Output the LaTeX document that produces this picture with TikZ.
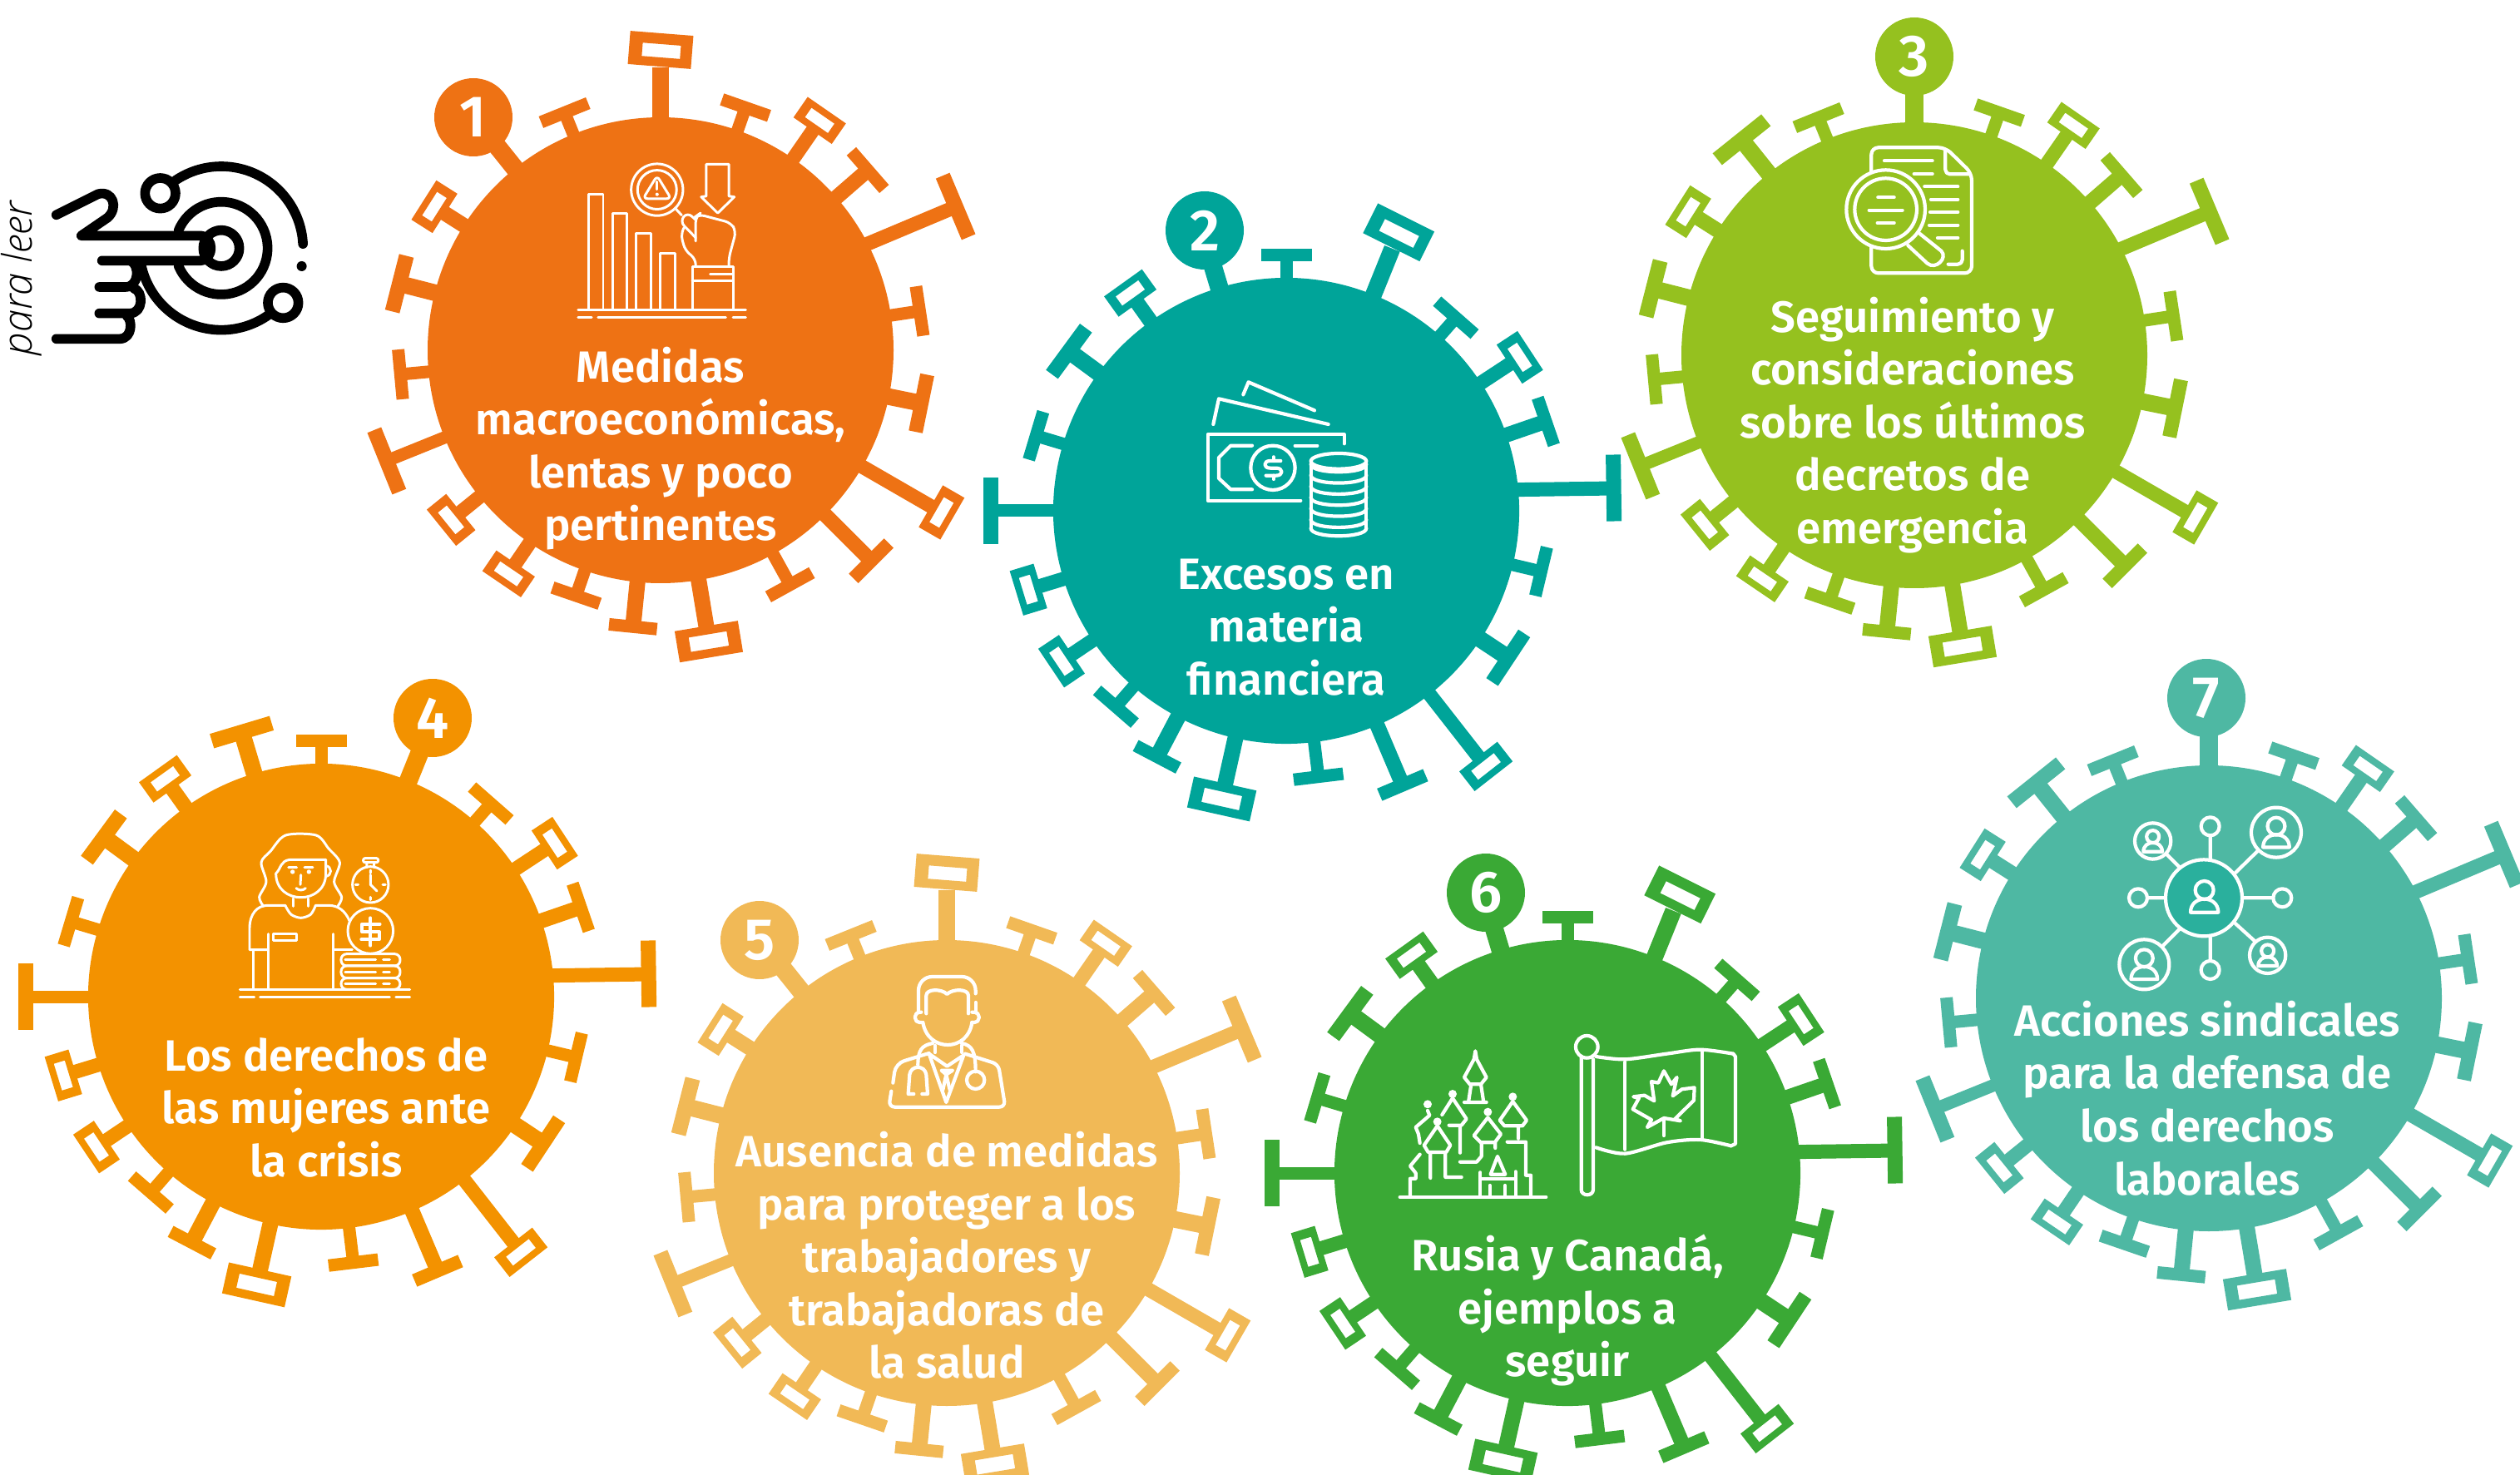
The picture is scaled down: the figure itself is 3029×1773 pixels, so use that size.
\documentclass[tikz,border=0pt]{standalone}
\usepackage{fontspec}
\setmainfont{Fira Sans}
\newfontfamily\tf{Fira Sans SemiBold}
\newfontfamily\pl{Open Sans Light}[ItalicFont={Open Sans Light Italic}]
\definecolor{c1}{HTML}{EE7214}
\definecolor{c2}{HTML}{00A499}
\definecolor{c3}{HTML}{95C11F}
\definecolor{c4}{HTML}{F39200}
\definecolor{c5}{HTML}{F1B956}
\definecolor{c6}{HTML}{3AA935}
\definecolor{c7}{HTML}{4EB8A3}
\definecolor{c7d}{HTML}{2AB09D}
\newcommand{\vT}[5]{%
  \begin{scope}[rotate=#1]
    \fill[vc] (260,-#5/2) rectangle (#2,#5/2);
    \fill[vc] (#2-#4/2,-#3/2) rectangle (#2+#4/2,#3/2);
  \end{scope}}
% ang, centre distance, width, thickness, stem
\newcommand{\vB}[5]{%
  \begin{scope}[rotate=#1]
    \fill[vc] (260,-#5/2) rectangle (#2-#4/2+1,#5/2);
    \fill[vc,even odd rule] (#2-#4/2,-#3/2) rectangle (#2+#4/2,#3/2)
       (#2-#4/2+0.27*#4,-#3/2+0.2*#3) rectangle (#2+#4/2-0.27*#4,#3/2-0.2*#3);
  \end{scope}}
% #1 cx #2 cy #3 colour #4 rotation #5 badge dx #6 badge dy #7 number #8 spikes at 90 / 128.7
\newcommand{\virus}[8]{%
  \colorlet{vc}{#3}%
  \begin{scope}[shift={(#1,#2)},rotate=#4]
    \vT{112}{308}{61}{15}{15}
    \vB{147.6}{322}{56}{30}{18}
    \vT{165.7}{324}{69}{18}{20}
    \vT{185.3}{314}{60}{15}{15}
    \vT{202}{355}{80}{18}{15}
    \vB{219}{324}{56}{30}{17}
    \vB{235.8}{325}{56}{30}{17}
    \vT{251}{312}{60}{15}{15}
    \vT{264.3}{334}{58}{15}{19}
    \vB{279.4}{355}{77}{38}{19}
    \vT{298.9}{322}{60}{15}{15}
    \vT{315}{358}{60}{16}{18}
    \vB{330}{390}{58}{30}{17}
    \vT{348.5}{320}{70}{17}{20}
    \vT{8.6}{315}{60}{15}{15}
    \begin{scope}[rotate=22.8]
      \fill[vc] (260,-30) rectangle (394,-13);
      \fill[vc] (385,-62) rectangle (403,18);
    \end{scope}
    \vT{41}{330}{60}{15}{18}
    \vB{55.3}{336}{56}{30}{17}
    \vT{70.7}{309}{60}{15}{15}
    #8
    \fill[vc] (0,0) circle[radius=280];
  \end{scope}
  \fill[vc] (#1+#5,#2+#6) circle[radius=47];
  \node[num] (badge#7) at (#1+#5,#2+#6) {#7};
}
\newcommand{\spkA}{%
  \begin{scope}[rotate=90]\fill[vc] (260,-10) rectangle (340,10);\end{scope}
  \begin{scope}[shift={(0,-361)},rotate=-4.5]
    \fill[vc,even odd rule] (-38,-20) rectangle (38,20) (-22,-7) rectangle (24,9);
  \end{scope}
  \begin{scope}[rotate=128.7]\fill[vc] (260,-11) rectangle (340,11);\end{scope}}
\newcommand{\spkB}{%
  \begin{scope}[rotate=90]\fill[vc] (260,-11) rectangle (340,11);\end{scope}
  \vT{128.7}{332}{75}{18}{20}}
\newcommand{\person}[3]{%
  \begin{scope}[shift={(#1,#2)},scale=#3]
    \draw[ic] (0,-28) circle[radius=33];
    \draw[ic] (-50,52) .. controls (-50,-12) and (50,-12) .. (50,52) -- cycle;
  \end{scope}}
\tikzset{
  num/.style={white,font=\tf\fontsize{20}{20}\selectfont,inner sep=0pt},
  vt/.style={white,align=center,inner sep=0pt,font=\tf\fontsize{15}{18.07}\selectfont},
  ic/.style={white,line cap=round,line join=round,line width=1.2pt},
  it/.style={ic,line width=0.85pt},
  hand/.style={black,line cap=round,line join=round,line width=3.3pt},
}
\begin{document}
\begin{tikzpicture}[x=0.01cm,y=-0.01cm]
\useasboundingbox (0,0) rectangle (3029,1773);
\virus{794}{421}{c1}{0}{-225}{-280}{1}{\spkA}
\virus{1546}{614}{c2}{-22}{-98}{-337}{2}{\spkA}
\virus{2301}{427}{c3}{0}{0}{-359}{3}{\spkB}
\virus{386}{1198}{c4}{-22}{134}{-335}{4}{\spkB}
\virus{1138}{1410}{c5}{0}{-225}{-280}{5}{\spkA}
\virus{1884}{1410}{c6}{-22}{-98}{-337}{6}{\spkA}
\virus{2655}{1200}{c7}{0}{-3}{-361}{7}{\spkB}
% texts
\node[vt] (t1) at (794,539) {Medidas\\macroeconómicas,\\lentas y poco\\pertinentes};
\node[vt] (t2) at (1546,754) {Excesos en\\materia\\financiera};
\node[vt] (t3) at (2299,511) {Seguimiento y\\consideraciones\\sobre los últimos\\decretos de\\emergencia};
\node[vt] (t4) at (392,1331) {Los derechos de\\las mujeres ante\\la crisis};
\node[vt] (t5) at (1138,1509) {Ausencia de medidas\\para proteger a los\\trabajadores y\\trabajadoras de\\la salud};
\node[vt] (t6) at (1884,1575) {Rusia y Canadá,\\ejemplos a\\seguir};
\node[vt] (t7) at (2653,1320) {Acciones sindicales\\para la defensa de\\los derechos\\laborales};
% para leer
\node[rotate=90,font=\pl\itshape\fontsize{13.9}{13}\selectfont,inner sep=0pt,black] (pl) at (26,335) {para leer};
% hand icon
\begin{scope}[shift={(1,150)},scale=0.3333]
  \draw[hand] (200,325)--(350,250) .. controls (405,235) and (425,300) .. (385,335)--(290,400)--(720,400) .. controls (770,405) and (770,485) .. (720,490)--(365,490);
  \draw[hand] (355,585)--(450,585) .. controls (500,585) and (500,505) .. (470,492);
  \draw[hand] (355,680)--(465,680) .. controls (515,680) and (515,600) .. (480,590);
  \draw[hand] (200,772)--(430,772) .. controls (475,770) and (475,705) .. (455,690);
  \draw[hand] (795,445) circle[radius=65];
  \draw[hand] plot[domain=157:-157,samples=60] ({795+167*cos(\x)},{445-167*sin(\x)});
  \draw[hand] plot[domain=124:3,samples=60] ({795+295*cos(\x)},{445-295*sin(\x)});
  \draw[hand] plot[domain=193:305,samples=60] ({795+295*cos(\x)},{445-295*sin(\x)});
  \draw[hand] (575,247) circle[radius=55];
  \draw[hand] (1018,642) circle[radius=55];
  \fill[black] (1085,510) circle[radius=18];
\end{scope}
% icon 1
\begin{scope}[shift={(400,0)},scale=0.5102]
  \draw[it] (603,728)--(603,457)--(637,457)--(637,728);
  \draw[it] (659,728)--(659,503)--(693,503)--(693,728);
  \draw[it] (715,728)--(715,549)--(750,549)--(750,728);
  \draw[it] (771,728)--(771,596)--(806,596)--(806,728);
  \draw[it] (847,728)--(847,628)--(943,628)--(943,728) (847,662)--(943,662) (889,646)--(943,646);
  \draw[it] (578,730)--(973,730) (578,747)--(610,747) (625,747)--(926,747) (943,747)--(973,747);
  \draw[it] (880,462)--(880,387)--(933,387)--(933,462)--(946,464)--(907,502)--(868,464)--cycle;
  \draw[it] (764,447) circle[radius=61] (764,447) circle[radius=46];
  \draw[it,rounded corners=1.5pt] (764,414)--(797,468)--(731,468)--cycle;
  \draw[it] (764,428)--(764,446);
  \fill[white] (764,458) circle[radius=4];
  \draw[it] (808,492)--(822,507);
  \draw[it,rounded corners=2pt] (855,568)--(855,510)--(862,505)--(938,525)--(950,545)--(933,608)--(933,628);
  \draw[it,rounded corners=2pt] (855,628)--(855,610)--(830,590)--(820,552)--(827,537);
  \draw[it,rounded corners=2pt] (855,560)--(818,522)--(835,500)--(855,518);
\end{scope}
% icon 2
\begin{scope}[shift={(1400,420)},scale=0.3333]
  \draw[ic] (283,163)--(302,118)--(540,220);
  \draw[ic] (175,270)--(195,178)--(590,270);
  \draw[ic] (647,340)--(647,307)--(155,307)--(155,545)--(490,545);
  \draw[ic] (315,347)--(238,347)--(195,390)--(195,465)--(238,505)--(315,505);
  \draw[ic] (390,427) circle[radius=80];
  \draw[ic] (470,347)--(550,347);
  \draw[ic] (418,402)--(380,402) .. controls (355,402) and (355,428) .. (380,428) -- (402,428) .. controls (428,428) and (428,455) .. (402,455) -- (365,455);
  \draw[ic] (392,388)--(392,402) (392,455)--(392,468);
  \draw[ic] (627,403) ellipse[x radius=100,y radius=28];
  \draw[ic] (527,403)--(527,645) (727,403)--(727,645);
  \foreach \yy in {414,454,494,534,574,614,645}
    \draw[ic] (527,\yy) .. controls (527,\yy+37) and (727,\yy+37) .. (727,\yy);
\end{scope}
% icon 3
\begin{scope}[shift={(2170,150)},scale=0.3333]
  \draw[ic,rounded corners=2.4pt] (238,170)--(238,82)--(505,82)--(600,175)--(600,535)--(238,535)--(238,440);
  \draw[ic,rounded corners=1.5pt] (505,90)--(505,178)--(590,178);
  \draw[ic] (285,130)--(458,130) (392,177)--(458,177) (430,223)--(550,223) (453,269)--(550,269) (450,315)--(550,315) (447,362)--(550,362) (477,408)--(550,408);
  \draw[ic,rounded corners=1.5pt] (566,455)--(566,503)--(515,503);
  \draw[ic] (290,305) circle[radius=142] (290,305) circle[radius=112];
  \draw[ic] (262,262)--(320,262) (230,308)--(350,308) (260,354)--(320,354);
  \draw[ic] (370,435)--(440,500) .. controls (470,525) and (515,480) .. (490,455)--(413,393);
\end{scope}
% icon 4
\begin{scope}[shift={(280,1000)},scale=0.3333]
  \draw[it] plot[smooth] coordinates {(110,268)(95,235)(120,180)(102,110)(135,70)(190,12)(300,12)(345,60)(385,110)(365,180)(392,235)(378,268)};
  \draw[it] (335,100)--(205,100) .. controls (170,105) and (175,130) .. (155,150) .. controls (155,265) and (335,265) .. (335,150)--cycle;
  \draw[it] (335,122) .. controls (358,125) and (358,158) .. (335,160);
  \draw[it] (200,128)--(230,128) (258,128)--(288,128) (245,155)--(243,190);
  \fill[white] (215,144) circle[radius=8] (274,144) circle[radius=8];
  \draw[it] (228,203) .. controls (238,212) and (252,212) .. (262,203);
  \draw[it] (217,240)--(217,268) (272,240)--(272,268);
  \draw[it] plot[smooth] coordinates {(190,268)(210,298)(245,310)(280,298)(297,268)};
  \draw[it] (190,265)--(125,265) .. controls (85,265) and (60,300) .. (60,345) -- (60,425)--(125,425);
  \draw[it] (297,265)--(345,265) .. controls (380,265) and (405,285) .. (420,320);
  \draw[it] (362,425)--(430,425) (73,425)--(73,568) (127,368)--(127,568) (362,368)--(362,568);
  \draw[it] (145,368) rectangle (229,391);
  \draw[it] (25,568)--(638,568) (25,597)--(77,597) (98,597)--(565,597) (588,597)--(638,597);
  \draw[it] (496,190) circle[radius=65];
  \draw[it,rounded corners=0.6pt] (470,95) rectangle (524,110);
  \draw[it] (483,110)--(483,128) (509,110)--(509,128) (496,138)--(496,148) (496,235)--(496,245) (442,190)--(452,190) (540,190)--(550,190) (496,155)--(496,190)--(519,213);
  \draw[it] (496,357) circle[radius=82];
  \draw[ic,line width=1.1pt] (530,332)--(465,332)--(465,360)--(528,360)--(528,388)--(463,388) (496,310)--(496,410);
  \foreach \ya/\yb in {440/483,483/527,527/568}{
    \draw[it,rounded corners=1.9pt] (390,\ya) rectangle (603,\yb);
    \draw[it] (405,{(\ya+\yb)/2})--(515,{(\ya+\yb)/2}) (542,{(\ya+\yb)/2})--(565,{(\ya+\yb)/2});}
\end{scope}
% icon 5
\begin{scope}[shift={(1050,1160)},scale=0.3333]
  \draw[ic,rounded corners=4.7pt] (162,170)--(162,42)--(368,42)--(368,103);
  \draw[ic] (368,135)--(368,172);
  \draw[ic] (190,175)--(190,110) .. controls (190,85) and (245,85) .. (265,105) .. controls (285,85) and (342,85) .. (342,110)--(342,175);
  \draw[ic,rounded corners=1.5pt] (172,170)--(150,170)--(150,207)--(172,207);
  \draw[ic,rounded corners=1.5pt] (355,170)--(380,170)--(380,207)--(355,207);
  \draw[ic] (178,207) .. controls (195,315) and (340,315) .. (355,207);
  \draw[ic] (213,282) .. controls (175,290) and (160,305) .. (160,360);
  \draw[ic] (318,282) .. controls (355,290) and (368,310) .. (368,385);
  \draw[ic] (222,290)--(222,315) (318,290)--(318,315);
  \draw[ic] (368,415) circle[radius=32];
  \draw[ic,rounded corners=3pt] (70,425)--(80,355)--(200,318);
  \draw[ic,rounded corners=2pt] (64,455)--(55,512)--(475,512)--(450,358)--(330,320);
  \draw[ic] (200,320)--(262,495)--(325,325) (200,320)--(265,365)--(325,325);
  \draw[ic] (245,380)--(285,380)--(262,395)--cycle (262,395)--(250,450) (262,395)--(275,450);
  \draw[ic] (145,465)--(125,465)--(130,395) .. controls (135,360) and (185,360) .. (190,395)--(195,465)--(175,465);
\end{scope}
% icon 6
\begin{scope}[shift={(1660,1220)},scale=0.3333]
  \draw[ic] (68,657)--(595,657);
  \draw[ic] (742,115) circle[radius=40];
  \draw[ic] (722,150)--(722,630) .. controls (722,655) and (765,655) .. (765,630)--(765,160);
  \draw[ic] plot[smooth] coordinates {(775,150)(880,160)(1030,140)(1150,125)(1270,140)};
  \draw[ic] (1270,140)--(1278,150)--(1278,465)--(1262,472);
  \draw[ic] plot[smooth] coordinates {(1262,472)(1150,450)(1030,460)(880,500)(775,478)};
  \draw[ic] (880,170)--(880,485) (1158,130)--(1158,448);
  \draw[ic] (1020,202)--(1047,250)--(1067,225)--(1052,292)--(1085,268)--(1130,262)--(1128,308)--(1060,375)--(1080,382)--(1020,372)--(960,405)--(975,378)--(908,340)--(930,300)--(910,295)--(950,290)--(985,310)--(975,240)--(1000,245)--cycle;
  \draw[ic] (1020,375)--(1020,435);
  \draw[ic] (340,130)--(345,160)--(380,225)--(360,250)--(320,250)--(300,225)--(335,160)--cycle;
  \draw[ic] (325,250)--(315,315) (360,250)--(370,315) (300,315)--(380,315);
  \fill[white] (258,285) circle[radius=15] (168,322) circle[radius=15] (203,385) circle[radius=15] (385,350) circle[radius=15] (475,295) circle[radius=15];
  \draw[ic] (220,360)--(258,300)--(308,375)--(290,398)--(245,398) (285,398)--(285,497);
  \draw[ic] (168,345)--(175,362)--(125,405)--(135,430)--(140,462);
  \draw[ic] (203,400)--(250,470)--(235,495)--(170,495)--(155,470)--cycle (178,495)--(178,588) (232,495)--(232,585)--(290,585);
  \draw[ic] (385,370)--(432,430)--(410,460)--(360,460)--(335,435)--cycle (362,460)--(362,510)--(345,530)--(285,530) (412,460)--(412,480);
  \draw[ic] (475,312)--(525,380)--(510,400)--(445,400)--(428,380)--cycle (495,400)--(495,445) (455,458)--(522,458)--(522,578)--(540,578)--(540,650);
  \draw[ic] (140,503)--(105,545)--(125,570)--(125,590)--(105,590)--(105,650);
  \draw[ic] (358,650)--(358,568) (358,590)--(485,590)--(485,565) (485,590)--(485,650);
  \draw[ic] (392,650)--(392,615) (447,650)--(447,615);
  \draw[ic] (395,575)--(420,510)--(448,575)--cycle;
\end{scope}
% icon 7
\begin{scope}[shift={(2540,950)},scale=0.3333]
  \fill[c7d] (327,388) circle[radius=138];
  \draw[ic] (327,388) circle[radius=138];
  \draw[ic] (350,130) circle[radius=33] (350,648) circle[radius=33] (90,388) circle[radius=33] (610,388) circle[radius=33];
  \draw[ic] (143,183) circle[radius=65] (588,152) circle[radius=90] (112,628) circle[radius=90] (557,595) circle[radius=65];
  \draw[ic] (350,165)--(350,250) (350,530)--(350,612) (125,388)--(188,388) (468,388)--(575,388) (190,228)--(240,278) (440,298)--(522,218) (240,500)--(180,560) (438,478)--(512,545);
  \person{329}{388}{1}
  \person{588}{156}{0.95}
  \person{112}{632}{0.95}
  \person{143}{186}{0.68}
  \person{557}{598}{0.68}
\end{scope}
\end{tikzpicture}
\end{document}
